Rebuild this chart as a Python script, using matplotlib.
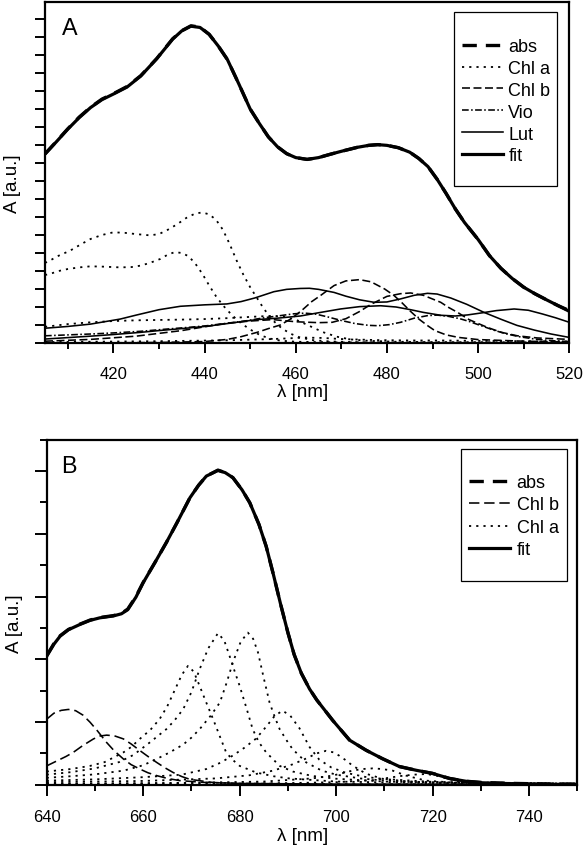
import matplotlib
matplotlib.use("Agg")
import matplotlib.pyplot as plt
from matplotlib.ticker import MultipleLocator, NullFormatter
from matplotlib.patches import Rectangle

plt.rcParams['font.family'] = ['Liberation Sans', 'DejaVu Sans']

# ---------------- Panel A data (wavelength nm, absorbance a.u.) ----------------
absA_x = [405, 407.5, 410, 412.5, 415, 417.5, 420, 423, 426, 429.5, 433, 435, 437, 439, 441, 443, 445,
          447.5, 450, 452, 454, 456, 458, 460, 462.5, 465, 467.5, 470, 473.5, 476, 478, 480, 482.5,
          485, 487, 489, 491, 493, 495, 497, 500, 502.5, 505, 507.5, 510, 512.5, 515, 517.5, 520]
absA_y = [10.5, 11.2, 11.9, 12.55, 13.1, 13.55, 13.85, 14.25, 14.85, 15.8, 16.9, 17.35, 17.62, 17.55, 17.15,
          16.5, 15.75, 14.4, 13.0, 12.2, 11.45, 10.9, 10.52, 10.3, 10.2, 10.3, 10.48, 10.65, 10.87, 10.98,
          11.02, 10.98, 10.85, 10.6, 10.25, 9.8, 9.1, 8.3, 7.45, 6.7, 5.75, 4.85, 4.15, 3.58, 3.1, 2.73,
          2.4, 2.08, 1.8]
fitA_y = [10.5, 11.18, 11.88, 12.52, 13.08, 13.52, 13.83, 14.22, 14.83, 15.79, 16.88, 17.34, 17.6, 17.53,
          17.15, 16.5, 15.75, 14.4, 13.0, 12.2, 11.45, 10.9, 10.52, 10.3, 10.2, 10.3, 10.48, 10.65, 10.87,
          10.98, 11.02, 10.98, 10.85, 10.6, 10.25, 9.8, 9.1, 8.3, 7.45, 6.7, 5.75, 4.85, 4.15, 3.58, 3.1,
          2.73, 2.4, 2.08, 1.76]

chlaA1_x = [405, 406, 408, 410.5, 413, 415, 417.5, 420, 422.5, 425, 428, 430, 432, 434, 436, 438, 439.5,
            441, 442.5, 444, 445.5, 447, 448.5, 450, 451.5, 453, 455, 457, 459, 461, 464, 468, 475, 490, 520]
chlaA1_y = [4.45, 4.57, 4.85, 5.13, 5.5, 5.78, 6.0, 6.15, 6.12, 6.05, 5.98, 6.05, 6.3, 6.6, 6.95, 7.2,
            7.25, 7.15, 6.85, 6.3, 5.5, 4.6, 3.8, 3.1, 2.5, 1.9, 1.25, 0.8, 0.5, 0.3, 0.15, 0.08, 0.04,
            0.02, 0.01]
chlaA2_x = [405, 406, 408, 410, 412.5, 415, 418, 421.5, 424, 426, 428, 430.3, 432, 433.5, 435, 436.5, 438,
            439.5, 441, 442.5, 444, 446, 448, 450, 452.3, 454.5, 456.6, 460, 470, 520]
chlaA2_y = [3.78, 3.83, 4.0, 4.11, 4.2, 4.26, 4.24, 4.2, 4.22, 4.3, 4.45, 4.67, 4.92, 5.05, 5.0, 4.82, 4.4,
            3.85, 3.2, 2.6, 2.1, 1.55, 1.1, 0.75, 0.42, 0.24, 0.13, 0.07, 0.03, 0.01]
chlaA3_x = [405, 410, 415, 420, 425, 430, 435, 440, 445, 450, 454, 457, 460, 463, 466, 469, 472, 476, 482,
            490, 505, 520]
chlaA3_y = [0.9, 1.05, 1.15, 1.22, 1.26, 1.28, 1.3, 1.33, 1.38, 1.45, 1.5, 1.48, 1.3, 0.95, 0.6, 0.35,
            0.2, 0.12, 0.07, 0.05, 0.04, 0.03]
chlaA4_x = [405, 430, 445, 455, 462, 466, 470, 478, 485, 492, 500, 510, 520]
chlaA4_y = [0.05, 0.1, 0.15, 0.22, 0.3, 0.28, 0.22, 0.16, 0.14, 0.14, 0.12, 0.1, 0.08]

chlbA1_x = [405, 420, 430, 440, 445, 448, 451.5, 454, 456.6, 459, 461.5, 463.5, 465.5, 468.4, 471, 474,
            476.5, 479.5, 481.5, 483.2, 485, 487, 489, 490.5, 493, 495.7, 500, 510, 520]
chlbA1_y = [0.0, 0.01, 0.03, 0.08, 0.2, 0.35, 0.59, 0.8, 1.0, 1.35, 1.85, 2.3, 2.65, 3.19, 3.45, 3.52,
            3.4, 3.0, 2.65, 2.26, 1.8, 1.33, 0.95, 0.69, 0.45, 0.31, 0.19, 0.1, 0.06]
chlbA2_x = [405, 415, 425, 435, 440, 445, 450, 455, 460, 465, 468, 471, 474, 476.5, 480, 483, 485.2, 488,
            491.8, 493.5, 495.5, 498, 502, 505, 508.6, 513, 520]
chlbA2_y = [0.1, 0.2, 0.38, 0.69, 0.9, 1.1, 1.22, 1.3, 1.18, 1.13, 1.15, 1.35, 1.75, 2.15, 2.59, 2.74,
            2.78, 2.65, 2.26, 1.98, 1.7, 1.3, 0.87, 0.6, 0.4, 0.28, 0.2]

vioA_x = [405, 410, 415, 420, 426, 432, 437, 440.5, 445, 449.3, 453, 456.6, 459.5, 462, 464.5, 467, 470,
          473, 476, 478, 480.5, 483, 486, 488.9, 491, 493.5, 496, 498, 500, 503.6, 506, 509, 512.4, 516, 520]
vioA_y = [0.4, 0.45, 0.5, 0.56, 0.65, 0.78, 0.88, 0.96, 1.1, 1.24, 1.4, 1.52, 1.62, 1.66, 1.6, 1.45, 1.25,
          1.08, 0.98, 0.96, 1.02, 1.15, 1.38, 1.52, 1.55, 1.48, 1.35, 1.2, 1.02, 0.7, 0.52, 0.35, 0.22,
          0.13, 0.08]

lutA1_x = [405, 410, 415, 421.5, 425, 430, 434.7, 440, 444.9, 448, 451, 455.2, 458, 461, 463, 465, 468.4,
           471, 474, 477.2, 480, 483, 486, 488.9, 491, 494, 497.5, 501.3, 505, 508.5, 512.3, 516, 520]
lutA1_y = [0.82, 0.92, 1.05, 1.33, 1.55, 1.85, 2.04, 2.12, 2.17, 2.3, 2.5, 2.85, 2.98, 3.03, 3.04, 2.98,
           2.81, 2.6, 2.4, 2.26, 2.28, 2.45, 2.65, 2.76, 2.72, 2.5, 2.15, 1.7, 1.32, 0.98, 0.72, 0.5, 0.31]
lutA2_x = [405, 410, 415, 420, 425.9, 430, 435, 440.5, 445, 451.5, 456, 461, 465, 469.8, 474, 478.6, 482,
           485.2, 488, 491.8, 495, 497.7, 501, 504, 507.9, 511, 514, 517, 520]
lutA2_y = [0.22, 0.3, 0.38, 0.47, 0.59, 0.69, 0.8, 0.93, 1.08, 1.3, 1.38, 1.5, 1.68, 1.89, 2.02, 2.07,
           2.0, 1.85, 1.7, 1.54, 1.5, 1.56, 1.68, 1.8, 1.89, 1.82, 1.62, 1.4, 1.15]

# ---------------- Panel B data ----------------
absB_x = [640, 641.5, 642.8, 644.5, 646.9, 649, 651, 653.8, 655.5, 656.8, 658.5, 660, 662.5, 664.8, 667,
          669.7, 671.5, 673.1, 675.5, 677, 678.6, 680.5, 682.1, 684, 685.5, 687, 688.5, 690, 691.3, 692.8,
          694.5, 696, 699.3, 702.8, 706.2, 709.6, 713.1, 716.6, 720, 723.5, 726.9, 730.4, 737, 745, 750]
absB_y = [4.11, 4.5, 4.75, 4.95, 5.12, 5.25, 5.33, 5.39, 5.46, 5.6, 6.0, 6.45, 7.1, 7.72, 8.35, 9.15, 9.55,
          9.84, 10.03, 9.95, 9.79, 9.4, 8.99, 8.3, 7.6, 6.7, 5.75, 4.85, 4.15, 3.55, 3.05, 2.7, 2.05, 1.42,
          1.1, 0.83, 0.58, 0.46, 0.36, 0.2, 0.11, 0.07, 0.04, 0.02, 0.02]
fitB_y = [4.1, 4.48, 4.74, 4.94, 5.11, 5.24, 5.32, 5.38, 5.45, 5.58, 5.98, 6.44, 7.1, 7.72, 8.35, 9.15,
          9.55, 9.84, 10.02, 9.95, 9.79, 9.4, 8.99, 8.3, 7.6, 6.7, 5.75, 4.85, 4.15, 3.55, 3.05, 2.7, 2.05,
          1.42, 1.1, 0.83, 0.58, 0.46, 0.36, 0.2, 0.11, 0.06, 0.03, 0.01, 0.01]

chlbB1_x = [640, 641.5, 643, 644.5, 646, 647.5, 649, 650.5, 652.4, 654, 655.9, 657.5, 659.3, 661, 662.8,
            665, 667.6, 673, 680, 700, 750]
chlbB1_y = [2.09, 2.28, 2.37, 2.4, 2.36, 2.22, 1.99, 1.72, 1.35, 1.08, 0.82, 0.64, 0.5, 0.38, 0.29, 0.2,
            0.13, 0.07, 0.04, 0.02, 0.01]
chlbB2_x = [640, 642, 644, 645.5, 647.5, 649.7, 651, 652.4, 654, 655.9, 657.5, 659.3, 661, 662.8, 664.5,
            666.2, 668, 669.7, 674.5, 680, 700, 750]
chlbB2_y = [0.6, 0.75, 0.9, 1.03, 1.25, 1.46, 1.55, 1.58, 1.56, 1.46, 1.3, 1.09, 0.9, 0.71, 0.54, 0.39,
            0.26, 0.17, 0.07, 0.04, 0.02, 0.01]

chlaB1_x = [640, 645, 649, 652, 655.9, 657.5, 659.3, 661.5, 663.4, 665, 666.5, 668, 669.3, 670.5, 671.7,
            673, 674.5, 676, 677.2, 678.5, 680, 683.4, 687, 690.3, 700, 720, 750]
chlaB1_y = [0.42, 0.5, 0.6, 0.72, 1.03, 1.2, 1.46, 1.75, 2.09, 2.5, 3.0, 3.5, 3.79, 3.6, 3.15, 2.65, 2.09,
            1.5, 1.03, 0.8, 0.6, 0.39, 0.27, 0.2, 0.1, 0.05, 0.03]
chlaB2_x = [640, 645, 650, 655, 658, 661.4, 664.8, 666.5, 668.3, 670, 671.7, 673.5, 675.5, 676.8, 677.9,
            679, 680, 681.4, 682.7, 684, 685.5, 688.3, 691, 695, 700, 710, 730, 750]
chlaB2_y = [0.32, 0.4, 0.52, 0.72, 0.95, 1.35, 1.77, 2.05, 2.41, 2.95, 3.68, 4.35, 4.83, 4.6, 4.11, 3.6,
            3.15, 2.45, 1.77, 1.35, 1.03, 0.6, 0.42, 0.28, 0.19, 0.1, 0.05, 0.03]
chlaB3_x = [640, 645, 650, 656, 660, 662.8, 665.5, 668.3, 670, 671.7, 674, 675.9, 677.3, 678.6, 680.2,
            681.7, 682.8, 683.8, 685, 686.2, 687.3, 688.3, 690, 691, 693.8, 697, 700, 705, 710, 720, 750]
chlaB3_y = [0.22, 0.27, 0.33, 0.45, 0.62, 0.82, 1.03, 1.28, 1.5, 1.77, 2.2, 2.62, 3.25, 3.9, 4.55, 4.85,
            4.65, 4.22, 3.4, 2.62, 2.15, 1.77, 1.35, 1.13, 0.71, 0.45, 0.32, 0.2, 0.13, 0.07, 0.03]
chlaB4_x = [640, 650, 660, 668, 673.1, 676, 678.6, 681, 683.4, 685.5, 687.3, 688.9, 690.5, 692.4, 694.5,
            696.5, 699, 702, 706, 710, 720, 750]
chlaB4_y = [0.13, 0.17, 0.24, 0.32, 0.5, 0.7, 0.93, 1.18, 1.47, 1.85, 2.2, 2.36, 2.2, 1.8, 1.2, 0.8, 0.55,
            0.38, 0.25, 0.18, 0.09, 0.03]
chlaB5_x = [640, 660, 675, 682, 687, 691, 694, 696, 697.9, 699.5, 700.7, 702, 703.4, 706.2, 709.6, 715,
            725, 750]
chlaB5_y = [0.08, 0.12, 0.2, 0.3, 0.45, 0.65, 0.85, 1.0, 1.08, 1.03, 0.92, 0.78, 0.61, 0.35, 0.19, 0.1,
            0.05, 0.02]
chlaB6_x = [640, 670, 685, 695, 699.3, 703.4, 705.5, 707.6, 709.5, 711.7, 714.5, 718.6, 725, 750]
chlaB6_y = [0.03, 0.06, 0.1, 0.2, 0.29, 0.45, 0.5, 0.52, 0.5, 0.45, 0.29, 0.13, 0.06, 0.02]
chlaB7_x = [640, 690, 700, 708, 713, 716, 718.6, 720.5, 722, 725.5, 730, 750]
chlaB7_y = [0.02, 0.05, 0.08, 0.15, 0.27, 0.32, 0.34, 0.3, 0.24, 0.1, 0.05, 0.02]

legendA_labels = ["abs", "Chl a", "Chl b", "Vio", "Lut", "fit"]
legendB_labels = ["abs", "Chl b", "Chl a", "fit"]

# ---------------- styles ----------------
DOT = (0, (1.2, 2.8))
DASH = (0, (5, 2.2))
DASHB = (0, (6.5, 3))
DASHDOT = (0, (4.2, 1.5, 1.0, 1.5))
ABSDASH = (0, (4.3, 2.7))
thin = 1.15
dotw = 1.3

W, H = 586, 853
fig = plt.figure(figsize=(W / 100, H / 100), dpi=100)

def px_axes(l, t, r, b):
    return fig.add_axes([l / W, 1 - b / H, (r - l) / W, (b - t) / H])

axA = px_axes(45, 3, 569.3, 344)
axB = px_axes(46.7, 440.7, 577.3, 785.7)

# Panel A
axA.plot(absA_x, absA_y, color='black', lw=2.4, ls=ABSDASH, label=legendA_labels[0], zorder=3)
axA.plot(chlaA1_x, chlaA1_y, color='black', lw=dotw, ls=DOT, label=legendA_labels[1])
for xs, ys in [(chlaA2_x, chlaA2_y), (chlaA3_x, chlaA3_y), (chlaA4_x, chlaA4_y)]:
    axA.plot(xs, ys, color='black', lw=dotw, ls=DOT)
axA.plot(chlbA1_x, chlbA1_y, color='black', lw=thin, ls=DASH, label=legendA_labels[2])
axA.plot(chlbA2_x, chlbA2_y, color='black', lw=thin, ls=DASH)
axA.plot(vioA_x, vioA_y, color='black', lw=thin, ls=DASHDOT, label=legendA_labels[3])
axA.plot(lutA1_x, lutA1_y, color='black', lw=thin, ls='-', label=legendA_labels[4])
axA.plot(lutA2_x, lutA2_y, color='black', lw=thin, ls='-')
axA.plot(absA_x, fitA_y, color='black', lw=2.3, ls='-', label=legendA_labels[5], zorder=4,
         solid_joinstyle='round')

axA.set_xlim(405, 520)
axA.set_ylim(0, 341 / 18)

# Panel B
axB.plot(absB_x, absB_y, color='black', lw=2.4, ls=ABSDASH, label=legendB_labels[0], zorder=3)
axB.plot(chlbB1_x, chlbB1_y, color='black', lw=thin, ls=DASHB, label=legendB_labels[1])
axB.plot(chlbB2_x, chlbB2_y, color='black', lw=thin, ls=DASHB)
first = True
for xs, ys in [(chlaB1_x, chlaB1_y), (chlaB2_x, chlaB2_y), (chlaB3_x, chlaB3_y), (chlaB4_x, chlaB4_y),
               (chlaB5_x, chlaB5_y), (chlaB6_x, chlaB6_y), (chlaB7_x, chlaB7_y)]:
    axB.plot(xs, ys, color='black', lw=dotw, ls=DOT, label=legendB_labels[2] if first else None)
    first = False
axB.plot(absB_x, fitB_y, color='black', lw=2.3, ls='-', label=legendB_labels[3], zorder=4,
         solid_joinstyle='round')

axB.set_xlim(640, 750)
axB.set_ylim(0, 11)

for ax in (axA, axB):
    for s in ax.spines.values():
        s.set_linewidth(1.6)
    ax.tick_params(axis='both', which='both', direction='out', width=1.4, labelsize=12, pad=9.5)
    ax.yaxis.set_major_formatter(NullFormatter())
    ax.yaxis.set_minor_formatter(NullFormatter())

axA.xaxis.set_major_locator(MultipleLocator(20))
axA.xaxis.set_minor_locator(MultipleLocator(10))
axA.yaxis.set_major_locator(MultipleLocator(1))
axA.tick_params(axis='x', which='major', length=7.0)
axA.tick_params(axis='x', which='minor', length=4.1)
axA.tick_params(axis='y', which='major', length=7.2)

axB.xaxis.set_major_locator(MultipleLocator(20))
axB.xaxis.set_minor_locator(MultipleLocator(10))
axB.yaxis.set_major_locator(MultipleLocator(2))
axB.yaxis.set_minor_locator(MultipleLocator(1))
axB.tick_params(axis='x', which='major', length=7.9)
axB.tick_params(axis='x', which='minor', length=4.3)
axB.tick_params(axis='y', which='major', length=8.4)
axB.tick_params(axis='y', which='minor', length=4.8)

# labels
for ax, ycen, xcen, xtop in ((axA, 0.4707, 0.491, -0.118), (axB, 0.4687, 0.482, -0.123)):
    ax.set_ylabel("A [a.u.]", fontsize=13.5)
    ax.set_xlabel("λ [nm]", fontsize=13.5)
    ax.yaxis.set_label_coords(-0.045, ycen)
    ax.xaxis.set_label_coords(xcen, xtop)
    ax.xaxis.label.set_va('top')

axA.text(0.032, 0.906, "A", transform=axA.transAxes, fontsize=16.8, va='baseline', ha='left')
axB.text(0.028, 0.907, "B", transform=axB.transAxes, fontsize=16.8, va='baseline', ha='left')

# legend frames (rectangles sized to the reference boxes)
def add_box(ax, l, t, r, b, axl, axt, axr, axb):
    x0 = (l - axl) / (axr - axl)
    x1 = (r - axl) / (axr - axl)
    y0 = (axb - b) / (axb - axt)
    y1 = (axb - t) / (axb - axt)
    ax.add_patch(Rectangle((x0, y0), x1 - x0, y1 - y0, transform=ax.transAxes, fill=True,
                           facecolor='white', edgecolor='black', lw=0.9, zorder=5))

add_box(axA, 454, 13, 557, 187, 45, 3, 569.3, 344)
add_box(axB, 461, 450, 566.7, 581.7, 46.7, 440.7, 577.3, 785.7)

legA = axA.legend(loc='upper left', bbox_to_anchor=((461.7 - 45) / 524.3, (344 - 39) / 341),
                  frameon=False, fontsize=13, handlelength=2.3, handletextpad=0.28,
                  labelspacing=0.27, borderpad=0, borderaxespad=0)
legA.set_zorder(6)
legB = axB.legend(loc='upper left', bbox_to_anchor=((469 - 46.7) / 530.6, (785.7 - 475) / 345),
                  frameon=False, fontsize=13, handlelength=2.27, handletextpad=0.37,
                  labelspacing=0.3, borderpad=0, borderaxespad=0)
legB.set_zorder(6)

fig.savefig("out.png", dpi=100)
